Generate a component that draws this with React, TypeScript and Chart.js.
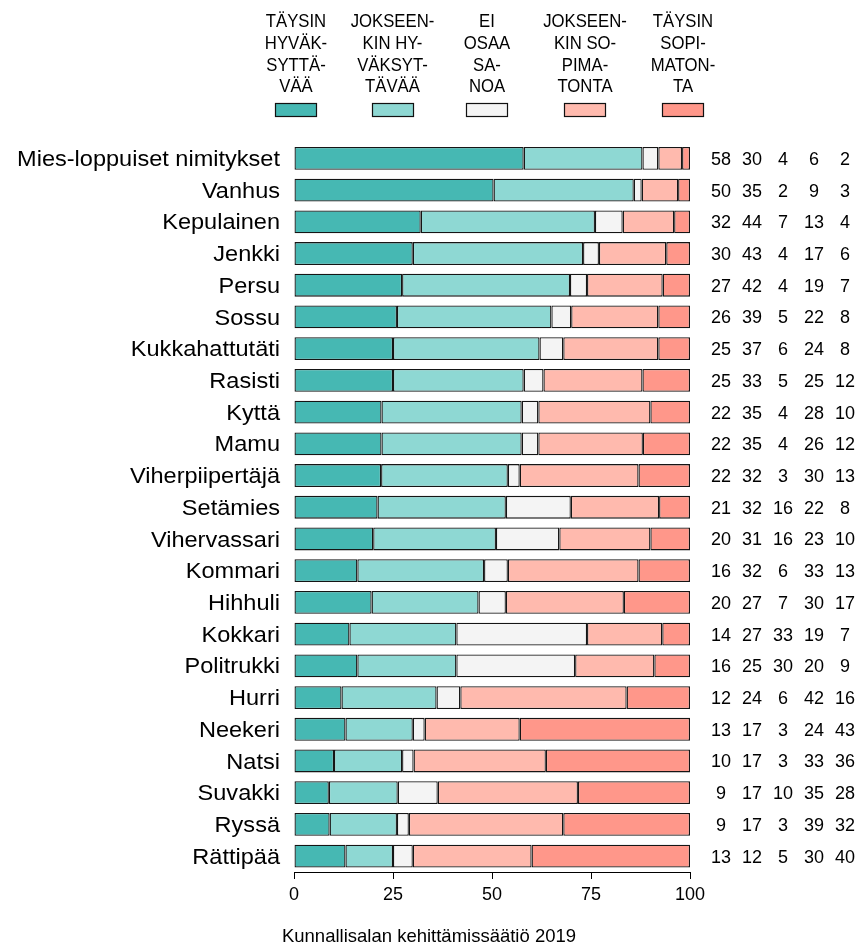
import React, { useEffect, useRef } from 'react';
import { Chart, registerables } from 'chart.js';

Chart.register(...registerables);

const categories = [
  'Mies-loppuiset nimitykset', 'Vanhus', 'Kepulainen', 'Jenkki', 'Persu', 'Sossu',
  'Kukkahattutäti', 'Rasisti', 'Kyttä', 'Mamu', 'Viherpiipertäjä', 'Setämies',
  'Vihervassari', 'Kommari', 'Hihhuli', 'Kokkari', 'Politrukki', 'Hurri', 'Neekeri',
  'Natsi', 'Suvakki', 'Ryssä', 'Rättipää',
];

// Printed numbers (right-hand columns)
const labelsTaysinHyv = [58, 50, 32, 30, 27, 26, 25, 25, 22, 22, 22, 21, 20, 16, 20, 14, 16, 12, 13, 10, 9, 9, 13];
const labelsJokHyv = [30, 35, 44, 43, 42, 39, 37, 33, 35, 35, 32, 32, 31, 32, 27, 27, 25, 24, 17, 17, 17, 17, 12];
const labelsEOS = [4, 2, 7, 4, 4, 5, 6, 5, 4, 4, 3, 16, 16, 6, 7, 33, 30, 6, 3, 3, 10, 3, 5];
const labelsJokSop = [6, 9, 13, 17, 19, 22, 24, 25, 28, 26, 30, 22, 23, 33, 30, 19, 20, 42, 24, 33, 35, 39, 30];
const labelsTaysinSop = [2, 3, 4, 6, 7, 8, 8, 12, 10, 12, 13, 8, 10, 13, 17, 7, 9, 16, 43, 36, 28, 32, 40];

// Bar segment lengths
const barTaysinHyv = [58, 50.4, 32, 30, 27.3, 26, 25, 25, 22.1, 22.1, 22, 21.1, 20, 16, 19.6, 14, 16, 12, 13, 10.1, 8.8, 9, 13];
const barJokHyv = [30, 35.4, 44, 43, 42.4, 39, 37, 33, 35.4, 35.4, 32, 32.4, 31, 32, 27.0, 27, 25, 24, 17, 17.2, 17.4, 17, 12];
const barEOS = [4, 2.0, 7, 4, 4.3, 5, 6, 5, 4.2, 4.2, 3, 16.4, 16, 6, 6.9, 33, 30, 6, 3, 2.9, 10.1, 3, 5];
const barJokSop = [6, 9.2, 13, 17, 19.1, 22, 24, 25, 28.3, 26.4, 30, 22.3, 23, 33, 29.8, 19, 20, 42, 24, 33.4, 35.4, 39, 30];
const barTaysinSop = [2, 3.0, 4, 6, 6.9, 8, 8, 12, 10.0, 11.9, 13, 7.8, 10, 13, 16.7, 7, 9, 16, 43, 36.4, 28.3, 32, 40];

const seriesNames = ['Täysin hyväksyttävää', 'Jokseenkin hyväksyttävää', 'Ei osaa sanoa', 'Jokseenkin sopimatonta', 'Täysin sopimatonta'];
const legendLines = [
  ['TÄYSIN', 'HYVÄK-', 'SYTTÄ-', 'VÄÄ'],
  ['JOKSEEN-', 'KIN HY-', 'VÄKSYT-', 'TÄVÄÄ'],
  ['EI', 'OSAA', 'SA-', 'NOA'],
  ['JOKSEEN-', 'KIN SO-', 'PIMA-', 'TONTA'],
  ['TÄYSIN', 'SOPI-', 'MATON-', 'TA'],
];
const xTicks = [0, 25, 50, 75, 100];
const caption = 'Kunnallisalan kehittämissäätiö 2019';

const colors = ['#46B8B3', '#8ED8D3', '#F4F4F4', '#FFBAAE', '#FF978A'];
const FONT = '"Liberation Sans", Arial, Helvetica, sans-serif';

export default function App() {
  const ref = useRef<HTMLCanvasElement>(null);

  useEffect(() => {
    const canvas = ref.current;
    if (!canvas) return;
    const barSeries = [barTaysinHyv, barJokHyv, barEOS, barJokSop, barTaysinSop];
    const valueLabels = [labelsTaysinHyv, labelsJokHyv, labelsEOS, labelsJokSop, labelsTaysinSop];

    const overlay = {
      id: 'overlay',
      afterDraw(chart: any) {
        const ctx = chart.ctx as CanvasRenderingContext2D;
        const ya = chart.scales.y;
        const area = chart.chartArea;
        ctx.save();
        ctx.fillStyle = '#000';
        ctx.textBaseline = 'middle';
        categories.forEach((c, i) => {
          const y = ya.getPixelForValue(i) + 1.5;
          ctx.save();
          ctx.font = `22px ${FONT}`;
          ctx.textAlign = 'right';
          ctx.translate(area.left - 14, y);
          ctx.scale(1.07, 1);
          ctx.fillText(c, 0, 0);
          ctx.restore();
          ctx.font = `18px ${FONT}`;
          ctx.textAlign = 'center';
          valueLabels.forEach((arr, j) => {
            ctx.fillText(String(arr[i]), area.right + 31 * (j + 1), y);
          });
        });

        // legend
        const centers = [296, 392.5, 487, 585, 683];
        ctx.textBaseline = 'alphabetic';
        ctx.textAlign = 'center';
        ctx.font = `19px ${FONT}`;
        legendLines.forEach((lines, j) => {
          lines.forEach((ln, k) => {
            ctx.save();
            ctx.translate(centers[j], 27.3 + k * 21.6);
            ctx.scale(0.88, 1);
            ctx.fillText(ln, 0, 0);
            ctx.restore();
          });
          const rx = Math.round(centers[j] - 21);
          ctx.fillStyle = colors[j];
          ctx.fillRect(rx, 103, 42, 14);
          ctx.strokeStyle = '#111';
          ctx.lineWidth = 1.2;
          ctx.strokeRect(rx + 0.5, 103.5, 41, 13);
          ctx.fillStyle = '#000';
        });

        // caption
        ctx.font = `18.5px ${FONT}`;
        ctx.textAlign = 'center';
        ctx.fillText(caption, 429, 941.5);
        ctx.restore();
      },
    };

    const chart = new Chart(canvas, {
      type: 'bar',
      data: {
        labels: categories,
        datasets: barSeries.map((d, j) => ({
          label: seriesNames[j],
          data: d,
          backgroundColor: colors[j],
          borderColor: '#151515',
          borderWidth: 1.3,
          borderSkipped: false,
          categoryPercentage: 1,
          barPercentage: 0.72,
        })),
      },
      options: {
        indexAxis: 'y',
        responsive: false,
        animation: false,
        devicePixelRatio: 1,
        layout: { padding: { left: 294, right: 170, top: 142.5, bottom: 34.4 } },
        plugins: {
          legend: { display: false },
          tooltip: { enabled: false },
        },
        scales: {
          x: {
            stacked: true,
            min: 0,
            max: 100,
            afterBuildTicks: (scale: any) => {
              scale.ticks = xTicks.map((v) => ({ value: v }));
            },
            ticks: {
              color: '#000',
              font: { family: FONT, size: 18 },
              padding: 5,
              maxRotation: 0,
              autoSkip: false,
            },
            grid: { drawOnChartArea: false, drawTicks: true, tickLength: 7, color: '#000', lineWidth: 1 },
            border: { display: true, color: '#000', width: 1 },
          },
          y: { stacked: true, display: false },
        },
      },
      plugins: [overlay],
    } as any);

    return () => chart.destroy();
  }, []);

  return (
    <div style={{ position: 'absolute', left: 0, top: 0, width: 860, height: 945 }}>
      <canvas ref={ref} width={860} height={945} style={{ display: 'block' }} />
    </div>
  );
}
